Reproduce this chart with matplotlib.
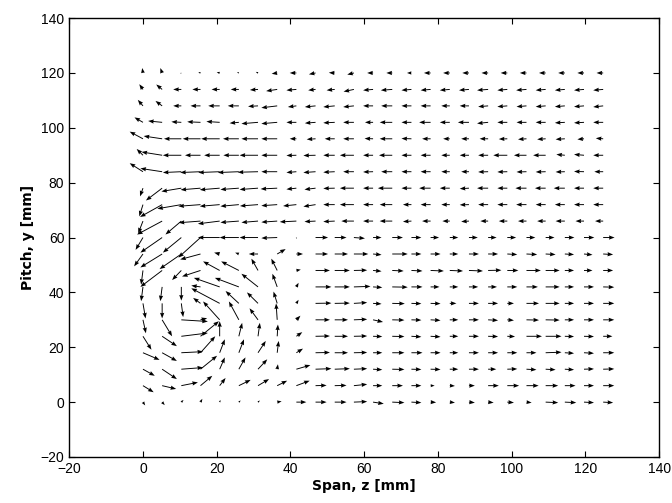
import matplotlib
matplotlib.use("Agg")
import matplotlib.pyplot as plt
import numpy as np

# grid positions (mm)
z_cols = [0, 5.2, 10.4, 15.6, 20.8, 26.0, 31.2, 36.4, 41.6, 46.8, 52.0, 57.2, 62.4,
          67.6, 72.8, 78.0, 83.2, 88.4, 93.6, 98.8, 104.0, 109.2, 114.4, 119.6, 124.8]
y_rows = [0, 6, 12, 18, 24, 30, 36, 42, 48, 54, 60, 66, 72, 78, 84, 90, 96, 102, 108, 114, 120]

# spanwise component, one row per y (bottom to top)
u_rows = [
    [0.6, 0.7, 0.6, 0.5, 0.2, 0.5, 0.5, 1.2, 2.7, 3.0, 3.2, 3.6, 2.9, 3.3, 2.7, 1.5, 1.4, 1.6, 1.5, 1.8, 1.4, 3.4, 3.1, 2.7, 2.7],
    [2.9, 3.8, 4.5, 3.2, 1.6, 3.2, 3.0, 2.7, 3.6, 3.0, 3.2, 3.6, 2.5, 2.9, 2.7, 1.1, 1.4, 1.6, 2.9, 3.2, 3.3, 3.4, 2.9, 2.7, 3.0],
    [3.2, 4.0, 5.9, 4.5, 1.4, 1.8, 2.5, 0.2, 3.8, 4.3, 4.1, 3.6, 2.5, 3.3, 2.7, 2.7, 2.3, 2.7, 2.2, 2.7, 2.7, 2.7, 2.5, 2.7, 3.0],
    [4.5, 4.0, 5.9, 4.0, 1.4, 1.4, 2.1, 0.4, 1.8, 3.9, 3.6, 3.6, 2.5, 3.3, 3.0, 2.7, 2.3, 2.7, 2.7, 2.7, 2.7, 4.3, 2.5, 2.7, 3.0],
    [2.3, 4.0, 7.2, 5.0, 0.0, 0.9, 0.5, 0.2, 1.6, 3.9, 3.6, 3.6, 2.5, 3.3, 2.7, 2.7, 2.3, 2.7, 2.7, 2.1, 4.2, 4.3, 2.5, 2.7, 2.5],
    [0.8, 2.7, 7.2, 1.8, -4.5, -2.7, -2.3, -0.3, 1.1, 3.9, 3.6, 3.6, 2.7, 3.3, 2.7, 2.7, 2.3, 2.7, 2.7, 1.8, 3.4, 3.8, 2.5, 2.7, 3.0],
    [0.7, 0.0, 0.5, -2.0, -7.7, -3.6, -3.0, -1.0, 0.6, 4.3, 4.1, 3.6, 2.3, 3.4, 2.7, 2.7, 1.8, 2.7, 2.7, 1.8, 3.4, 3.8, 2.5, 2.7, 3.0],
    [-0.5, -0.5, 0.0, -2.5, -7.0, -6.5, -4.5, -1.3, 0.6, 4.3, 4.1, 4.5, 2.5, 4.2, 3.0, 2.4, 2.3, 2.5, 2.4, 2.7, 3.1, 3.8, 2.5, 2.7, 3.0],
    [-0.5, -5.9, -2.5, -5.0, -4.5, -4.8, -1.8, -1.6, 1.2, 3.9, 4.1, 3.6, 2.3, 3.1, 3.0, 3.6, 3.6, 3.8, 3.6, 3.0, 3.9, 3.8, 2.5, 2.3, 2.7],
    [-2.4, -5.9, -5.9, -5.5, -1.5, -1.0, -2.5, 2.3, 1.8, 3.4, 3.6, 3.9, 2.3, 4.2, 2.7, 2.7, 2.3, 2.7, 2.7, 2.7, 2.9, 2.7, 2.5, 2.3, 2.7],
    [-2.0, -5.9, -5.0, -6.0, -5.9, -5.2, -5.0, -4.3, 0.0, 3.4, 3.2, 3.0, 2.3, 2.9, 2.7, 2.3, 2.3, 2.4, 2.3, 2.4, 2.4, 2.4, 2.6, 2.8, 3.1],
    [-1.3, -6.8, -4.3, -5.9, -5.9, -5.0, -4.5, -4.3, -4.5, -3.0, -3.1, -3.4, -2.7, -3.4, -2.3, -2.3, -2.0, -2.1, -2.1, -2.3, -2.3, -2.3, -2.5, -2.3, -2.2],
    [-1.0, -6.0, -6.5, -6.0, -5.4, -5.0, -4.9, -4.3, -3.6, -3.3, -3.1, -3.8, -2.7, -3.4, -2.3, -2.7, -2.3, -2.5, -2.7, -2.7, -2.8, -2.7, -2.7, -2.7, -2.7],
    [-0.8, -4.4, -5.4, -5.4, -5.4, -5.0, -5.0, -4.5, -2.7, -3.0, -3.1, -3.8, -2.7, -3.9, -2.7, -3.1, -2.7, -2.5, -3.0, -2.7, -3.0, -2.9, -3.0, -2.7, -2.7],
    [-3.6, -5.9, -5.0, -5.5, -5.8, -5.7, -5.5, -4.3, -2.7, -3.3, -3.1, -2.9, -2.7, -3.0, -2.7, -2.7, -2.3, -2.1, -2.7, -2.7, -2.7, -2.7, -2.5, -2.7, -2.4],
    [-1.7, -5.6, -5.0, -4.2, -4.2, -4.2, -5.0, -4.3, -2.7, -3.3, -3.1, -3.8, -2.7, -3.6, -2.7, -2.7, -2.3, -2.5, -2.7, -3.8, -3.4, -3.4, -2.3, -2.7, -2.7],
    [-3.6, -5.0, -4.7, -4.8, -5.0, -4.3, -4.5, -4.3, -1.8, -2.4, -2.7, -2.9, -2.3, -3.4, -2.7, -2.3, -1.8, -2.1, -2.3, -2.3, -2.3, -2.3, -2.5, -1.8, -2.0],
    [-2.3, -3.8, -2.7, -3.6, -3.6, -2.5, -4.5, -4.3, -2.7, -2.9, -3.1, -2.9, -2.2, -3.4, -2.7, -3.1, -2.7, -3.0, -3.0, -2.7, -2.7, -2.7, -2.7, -2.7, -2.7],
    [-1.4, -1.8, -2.2, -2.7, -3.1, -3.0, -2.7, -4.3, -2.3, -2.9, -3.1, -2.9, -2.7, -3.0, -2.7, -2.7, -2.3, -2.5, -2.7, -2.7, -2.7, -2.7, -2.7, -2.7, -2.7],
    [-1.0, -1.6, -2.2, -2.2, -2.2, -2.2, -2.2, -3.0, -2.7, -2.0, -2.2, -2.8, -2.7, -3.1, -2.7, -2.7, -2.7, -2.7, -3.0, -2.7, -2.8, -2.7, -2.7, -2.7, -2.7],
    [-0.2, -0.5, -0.3, -0.6, -0.8, -0.5, -0.6, -1.5, -1.8, -1.8, -1.6, -1.8, -1.6, -1.6, -1.2, -1.8, -1.8, -1.8, -1.8, -1.8, -1.8, -1.8, -1.8, -1.8, -1.8],
]

# pitchwise component, same layout
v_rows = [
    [-1.2, -1.1, 0.8, 1.2, 0.8, 0.6, 0.6, 0.3, 0, 0, 0, 0.2, -0.6, -0.2, -0.2, -0.1, -0.2, -0.2, -0.2, -0.2, -0.2, -0.2, -0.2, -0.2, -0.2],
    [-2.4, -1.2, 1.2, 3.6, 2.8, 2.1, 2.4, 1.8, 1.8, 0.1, 0.1, 0.5, 0, 0, 0, 0, -0.1, 0, 0, 0, 0, 0, 0, 0, 0],
    [-2.4, -3.6, 0.6, 4.9, 4.3, 4.3, 3.6, 1.8, 1.5, 0.2, 0.2, 0.2, -0.2, -0.1, -0.1, -0.1, 0, 0, 0, 0.1, -0.2, -0.2, -0.2, 0.1, 0.1],
    [-2.6, -3.0, 0.4, 6.0, 4.9, 4.9, 4.3, 4.3, 1.5, 0.1, 0, 0.1, 0, 0, 0, 0, 0, 0, 0, 0, 0, 0.2, -0.2, -0.2, 0],
    [-4.9, -3.6, 1.2, 5.5, 5.5, 4.9, 4.9, 4.3, 1.5, 0.1, 0, 0.1, -0.1, -0.1, -0.2, -0.2, 0, 0, -0.1, -0.1, 0, 0, -0.1, -0.1, 0],
    [-4.9, -6.0, -0.6, 0.6, 6.7, 6.7, 4.2, 6.0, 1.5, 0, 0, 0.2, -0.8, -0.1, -0.1, -0.2, 0, 0, -0.2, -0.2, -0.1, -0.1, 0, 0, 0],
    [-5.5, -5.5, -5.0, 2.0, 5.5, 4.5, 4.0, 4.3, 1.3, 0.1, 0.1, 0.3, -0.2, -0.1, -0.1, -0.1, 0, 0, 0, 0, 0, 0, 0, 0, 0],
    [-5.2, -5.2, -5.0, 0.5, 3.3, 3.3, 4.8, 4.8, 1.5, 0, 0, 0.2, -0.2, -0.1, 0, 0, 0, 0, 0, 0, 0, 0, 0, 0, -0.1],
    [-5.2, -6.0, -3.5, -2.2, 3.3, 3.3, 4.3, 4.3, 0.3, 0, 0, 0.1, -0.3, -0.2, -0.2, -0.2, -0.2, -0.2, 0.1, 0, 0, 0, 0, 0, 0],
    [-4.5, -4.9, -5.5, -2.0, 0.5, 0.5, 0, 1.8, 0, 0, 0, 0, -0.3, 0, 0, 0, 0, 0, 0, -0.2, -0.2, -0.2, -0.2, -0.3, -0.2],
    [-4.5, -5.5, -5.5, -7.3, 0, 0, 0, -0.2, -0.5, 0, 0, -0.3, 0, 0, 0, 0, 0, 0, 0, 0, 0, 0, 0, 0, 0],
    [-4.5, -4.9, -4.9, -0.6, -1.0, -0.5, -0.5, -0.4, -0.3, -0.2, -0.2, 0, 0, 0, -0.2, 0, 0, -0.2, 0, 0, 0, 0, 0, 0, 0],
    [-4.3, -4.5, -1.5, -0.6, -0.6, -0.6, -0.5, -0.4, -0.5, -0.7, 0, 0, 0, 0, 0, 0, 0, -0.1, 0, 0, 0, 0, 0, 0, 0],
    [-3.0, -4.5, -1.2, -0.6, -0.6, -0.5, -0.5, -0.3, -0.4, -0.5, -0.1, 0, 0, 0, 0, 0, 0, -0.2, 0, 0, 0, 0, 0, 0, 0],
    [3.1, 1.2, -0.3, -0.3, -0.3, -0.3, -0.2, 0, -0.3, -0.3, -0.2, 0, -0.1, 0, 0, 0, 0, 0, -0.1, -0.1, -0.1, -0.1, -0.1, 0.1, 0],
    [2.3, 1.2, 0, 0, 0, 0, 0, 0, -0.1, -0.1, 0, 0, 0, 0, 0, 0, 0, 0, 0, 0, 0, 0, 0.3, 0.3, 0],
    [2.6, 1.0, 0, 0, 0, 0, 0, 0, 0, -0.2, 0, 0, 0.1, 0, 0.1, 0, 0, 0, 0, -0.1, -0.2, -0.2, -0.2, -0.2, 0.2],
    [1.8, 0.5, 0.2, 0.2, 0.3, -0.3, -0.5, -0.5, 0, -0.3, -0.2, 0, 0, 0, 0, 0, 0, 0, -0.4, 0, 0, 0, -0.2, -0.2, 0],
    [2.2, 1.8, 0, 0, 0, 0, -0.2, -0.7, -0.4, -0.4, -0.4, -0.4, 0, 0, 0, 0, 0, 0, -0.3, -0.3, -0.3, -0.3, -0.3, -0.3, -0.4],
    [1.9, 1.8, 0, 0, 0, 0, -0.2, -0.6, -0.3, -0.3, -0.3, -0.8, -0.3, -0.3, -0.3, -0.3, -0.3, -0.3, -0.3, -0.3, -0.3, -0.3, -0.3, -0.3, -0.3],
    [1.8, 1.8, -0.2, 0.3, 0.3, 0.3, 0.4, -0.3, 0, -0.5, 0.1, -0.6, 0, 0, 0, 0, 0, 0, 0, 0, 0, 0, 0, 0, 0],
]

Z, Y = np.meshgrid(z_cols, y_rows)
U = np.array(u_rows)
V = np.array(v_rows)

fig = plt.figure(figsize=(6.72, 5.03), dpi=100)
ax = fig.add_axes([0.103, 0.0915, 0.878, 0.8725])

ax.quiver(Z, Y, U, V, angles='xy', scale_units='xy', scale=1,
          color='black', width=0.0016, headwidth=4.5, headlength=6,
          headaxislength=5.5)

ax.set_xlim(-20, 140)
ax.set_ylim(-20, 140)
ax.set_xticks(np.arange(-20, 141, 20))
ax.set_yticks(np.arange(-20, 141, 20))
ax.tick_params(direction='in', top=True, right=True, length=4, labelsize=10)
for lab in ax.get_xticklabels() + ax.get_yticklabels():
    lab.set_family('Liberation Sans')
for sp in ax.spines.values():
    sp.set_linewidth(1.0)

ax.set_xlabel('Span, z [mm]', fontsize=10, fontweight='bold', labelpad=2)
ax.set_ylabel('Pitch, y [mm]', fontsize=10, fontweight='bold', labelpad=4)

fig.savefig('out.png', dpi=100)
